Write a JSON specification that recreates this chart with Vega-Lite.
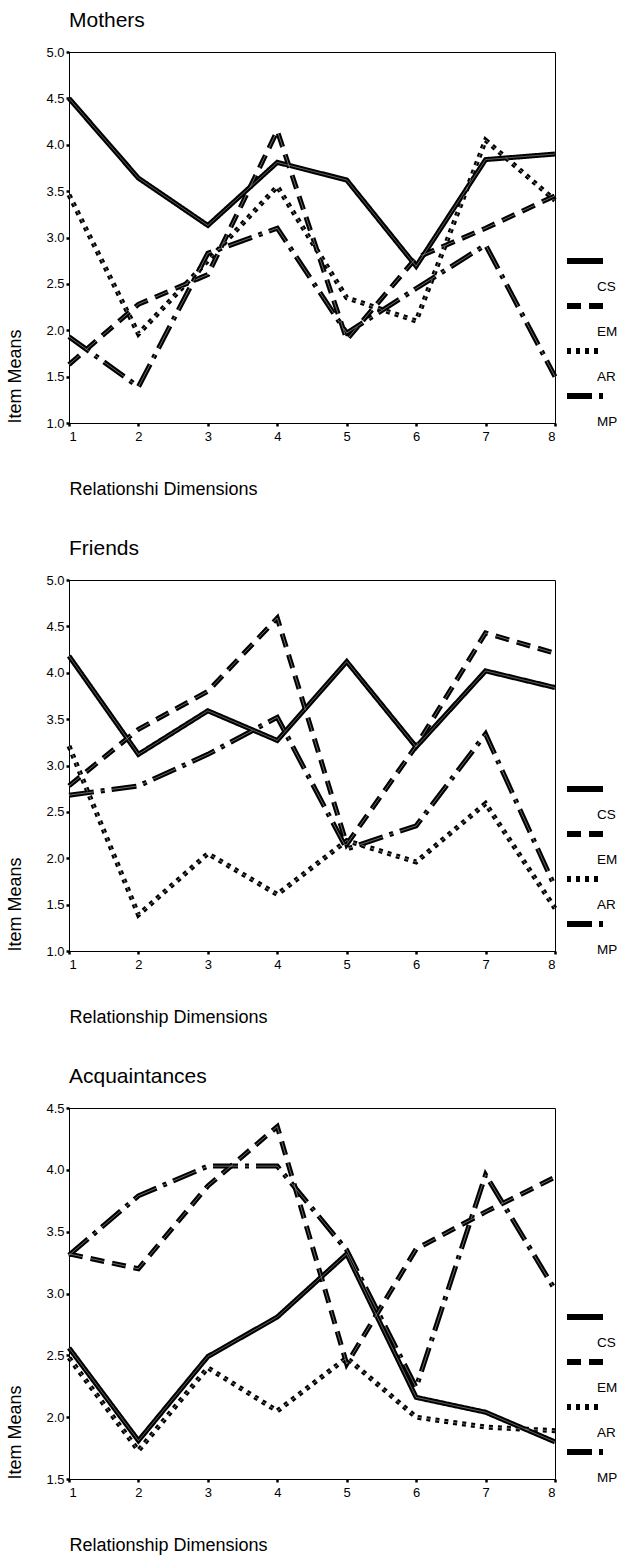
{
  "$schema": "https://vega.github.io/schema/vega-lite/v6.json",
  "padding": {"left": 6, "top": 9, "right": 5, "bottom": 5},
  "spacing": 38,
  "config": {
    "font": "Liberation Sans",
    "view": {"stroke": "black", "strokeWidth": 1},
    "axis": {
      "domainColor": "black", "tickColor": "black", "labelColor": "black", "titleColor": "black",
      "grid": false, "tickSize": 3, "tickWidth": 2.5, "labelFontSize": 13, "titleFontWeight": "normal",
      "titleAnchor": "start", "titleFontSize": 18
    },
    "axisX": {"titlePadding": 37, "labelPadding": 4},
    "axisY": {"titlePadding": 21, "labelPadding": 2},
    "title": {"anchor": "start", "frame": "group", "fontSize": 21, "fontWeight": "normal", "offset": 15.5},
    "legend": {
      "labelColor": "black", "orient": "none", "legendX": 507, "legendY": 200, "title": null,
      "symbolType": "M-3,0H3", "symbolSize": 144, "symbolStrokeWidth": 6, "symbolStrokeColor": "black", "symbolFillColor": "transparent",
      "labelFontSize": 13.5, "labelOffset": 3, "rowPadding": 0, "labelBaseline": "top"
    }
  },
  "resolve": {"scale": {"x": "independent", "y": "independent"}, "legend": {"strokeDash": "independent"}},
  "datasets": {
    "mothers": [
      {"dim": 1, "scale": "CS", "mean": 4.50}, {"dim": 2, "scale": "CS", "mean": 3.64}, {"dim": 3, "scale": "CS", "mean": 3.13}, {"dim": 4, "scale": "CS", "mean": 3.81},
      {"dim": 5, "scale": "CS", "mean": 3.62}, {"dim": 6, "scale": "CS", "mean": 2.69}, {"dim": 7, "scale": "CS", "mean": 3.84}, {"dim": 8, "scale": "CS", "mean": 3.90},
      {"dim": 1, "scale": "EM", "mean": 1.63}, {"dim": 2, "scale": "EM", "mean": 2.28}, {"dim": 3, "scale": "EM", "mean": 2.60}, {"dim": 4, "scale": "EM", "mean": 4.15},
      {"dim": 5, "scale": "EM", "mean": 1.90}, {"dim": 6, "scale": "EM", "mean": 2.78}, {"dim": 7, "scale": "EM", "mean": 3.10}, {"dim": 8, "scale": "EM", "mean": 3.45},
      {"dim": 1, "scale": "AR", "mean": 3.46}, {"dim": 2, "scale": "AR", "mean": 1.96}, {"dim": 3, "scale": "AR", "mean": 2.75}, {"dim": 4, "scale": "AR", "mean": 3.55},
      {"dim": 5, "scale": "AR", "mean": 2.35}, {"dim": 6, "scale": "AR", "mean": 2.10}, {"dim": 7, "scale": "AR", "mean": 4.05}, {"dim": 8, "scale": "AR", "mean": 3.40},
      {"dim": 1, "scale": "MP", "mean": 1.93}, {"dim": 2, "scale": "MP", "mean": 1.39}, {"dim": 3, "scale": "MP", "mean": 2.83}, {"dim": 4, "scale": "MP", "mean": 3.10},
      {"dim": 5, "scale": "MP", "mean": 1.97}, {"dim": 6, "scale": "MP", "mean": 2.45}, {"dim": 7, "scale": "MP", "mean": 2.92}, {"dim": 8, "scale": "MP", "mean": 1.50}
    ],
    "friends": [
      {"dim": 1, "scale": "CS", "mean": 4.18}, {"dim": 2, "scale": "CS", "mean": 3.12}, {"dim": 3, "scale": "CS", "mean": 3.59}, {"dim": 4, "scale": "CS", "mean": 3.27},
      {"dim": 5, "scale": "CS", "mean": 4.12}, {"dim": 6, "scale": "CS", "mean": 3.20}, {"dim": 7, "scale": "CS", "mean": 4.02}, {"dim": 8, "scale": "CS", "mean": 3.84},
      {"dim": 1, "scale": "EM", "mean": 2.78}, {"dim": 2, "scale": "EM", "mean": 3.39}, {"dim": 3, "scale": "EM", "mean": 3.80}, {"dim": 4, "scale": "EM", "mean": 4.59},
      {"dim": 5, "scale": "EM", "mean": 2.15}, {"dim": 6, "scale": "EM", "mean": 3.21}, {"dim": 7, "scale": "EM", "mean": 4.43}, {"dim": 8, "scale": "EM", "mean": 4.21},
      {"dim": 1, "scale": "AR", "mean": 3.21}, {"dim": 2, "scale": "AR", "mean": 1.39}, {"dim": 3, "scale": "AR", "mean": 2.05}, {"dim": 4, "scale": "AR", "mean": 1.61},
      {"dim": 5, "scale": "AR", "mean": 2.19}, {"dim": 6, "scale": "AR", "mean": 1.96}, {"dim": 7, "scale": "AR", "mean": 2.59}, {"dim": 8, "scale": "AR", "mean": 1.46},
      {"dim": 1, "scale": "MP", "mean": 2.68}, {"dim": 2, "scale": "MP", "mean": 2.78}, {"dim": 3, "scale": "MP", "mean": 3.12}, {"dim": 4, "scale": "MP", "mean": 3.52},
      {"dim": 5, "scale": "MP", "mean": 2.10}, {"dim": 6, "scale": "MP", "mean": 2.35}, {"dim": 7, "scale": "MP", "mean": 3.34}, {"dim": 8, "scale": "MP", "mean": 1.69}
    ],
    "acq": [
      {"dim": 1, "scale": "CS", "mean": 2.56}, {"dim": 2, "scale": "CS", "mean": 1.81}, {"dim": 3, "scale": "CS", "mean": 2.49}, {"dim": 4, "scale": "CS", "mean": 2.81},
      {"dim": 5, "scale": "CS", "mean": 3.32}, {"dim": 6, "scale": "CS", "mean": 2.16}, {"dim": 7, "scale": "CS", "mean": 2.04}, {"dim": 8, "scale": "CS", "mean": 1.80},
      {"dim": 1, "scale": "EM", "mean": 3.32}, {"dim": 2, "scale": "EM", "mean": 3.20}, {"dim": 3, "scale": "EM", "mean": 3.87}, {"dim": 4, "scale": "EM", "mean": 4.35},
      {"dim": 5, "scale": "EM", "mean": 2.43}, {"dim": 6, "scale": "EM", "mean": 3.36}, {"dim": 7, "scale": "EM", "mean": 3.66}, {"dim": 8, "scale": "EM", "mean": 3.94},
      {"dim": 1, "scale": "AR", "mean": 2.48}, {"dim": 2, "scale": "AR", "mean": 1.73}, {"dim": 3, "scale": "AR", "mean": 2.40}, {"dim": 4, "scale": "AR", "mean": 2.05},
      {"dim": 5, "scale": "AR", "mean": 2.48}, {"dim": 6, "scale": "AR", "mean": 2.00}, {"dim": 7, "scale": "AR", "mean": 1.92}, {"dim": 8, "scale": "AR", "mean": 1.89},
      {"dim": 1, "scale": "MP", "mean": 3.31}, {"dim": 2, "scale": "MP", "mean": 3.79}, {"dim": 3, "scale": "MP", "mean": 4.03}, {"dim": 4, "scale": "MP", "mean": 4.03},
      {"dim": 5, "scale": "MP", "mean": 3.35}, {"dim": 6, "scale": "MP", "mean": 2.24}, {"dim": 7, "scale": "MP", "mean": 3.96}, {"dim": 8, "scale": "MP", "mean": 3.03}
    ]
  },
  "vconcat": [
    {
      "title": {"text": "Mothers"},
      "width": 486, "height": 371,
      "data": {"name": "mothers"},
      "encoding": {
        "x": {"field": "dim", "type": "quantitative", "scale": {"domain": [1, 8], "nice": false},
              "axis": {"values": [1, 2, 3, 4, 5, 6, 7, 8], "format": "d", "title": "Relationshi Dimensions"}},
        "y": {"field": "mean", "type": "quantitative", "scale": {"domain": [1, 5], "nice": false, "zero": false},
              "axis": {"values": [1, 1.5, 2, 2.5, 3, 3.5, 4, 4.5, 5], "format": ".1f", "title": "Item Means"}},
        "strokeDash": {"field": "scale", "type": "nominal",
          "scale": {"domain": ["CS", "EM", "AR", "MP"], "range": [[1, 0], [14, 8], [4, 5], [25, 7, 4, 7]]},
          "legend": {"encoding": {"labels": {"dy": {"value": 19}}}}}
      },
      "layer": [
        {"mark": {"type": "line", "color": "black", "strokeWidth": 5}},
        {"mark": {"type": "line", "color": "#9a9a9a", "strokeWidth": 0.7}}
      ]
    },
    {
      "title": {"text": "Friends"},
      "width": 486, "height": 371,
      "data": {"name": "friends"},
      "encoding": {
        "x": {"field": "dim", "type": "quantitative", "scale": {"domain": [1, 8], "nice": false},
              "axis": {"values": [1, 2, 3, 4, 5, 6, 7, 8], "format": "d", "title": "Relationship Dimensions"}},
        "y": {"field": "mean", "type": "quantitative", "scale": {"domain": [1, 5], "nice": false, "zero": false},
              "axis": {"values": [1, 1.5, 2, 2.5, 3, 3.5, 4, 4.5, 5], "format": ".1f", "title": "Item Means"}},
        "strokeDash": {"field": "scale", "type": "nominal",
          "scale": {"domain": ["CS", "EM", "AR", "MP"], "range": [[1, 0], [14, 8], [4, 5], [25, 7, 4, 7]]},
          "legend": {"encoding": {"labels": {"dy": {"value": 19}}}}}
      },
      "layer": [
        {"mark": {"type": "line", "color": "black", "strokeWidth": 5}},
        {"mark": {"type": "line", "color": "#9a9a9a", "strokeWidth": 0.7}}
      ]
    },
    {
      "title": {"text": "Acquaintances"},
      "width": 486, "height": 371,
      "data": {"name": "acq"},
      "encoding": {
        "x": {"field": "dim", "type": "quantitative", "scale": {"domain": [1, 8], "nice": false},
              "axis": {"values": [1, 2, 3, 4, 5, 6, 7, 8], "format": "d", "title": "Relationship Dimensions"}},
        "y": {"field": "mean", "type": "quantitative", "scale": {"domain": [1.5, 4.5], "nice": false, "zero": false},
              "axis": {"values": [1.5, 2, 2.5, 3, 3.5, 4, 4.5], "format": ".1f", "title": "Item Means"}},
        "strokeDash": {"field": "scale", "type": "nominal",
          "scale": {"domain": ["CS", "EM", "AR", "MP"], "range": [[1, 0], [14, 8], [4, 5], [25, 7, 4, 7]]},
          "legend": {"encoding": {"labels": {"dy": {"value": 19}}}}}
      },
      "layer": [
        {"mark": {"type": "line", "color": "black", "strokeWidth": 5}},
        {"mark": {"type": "line", "color": "#9a9a9a", "strokeWidth": 0.7}}
      ]
    }
  ]
}
